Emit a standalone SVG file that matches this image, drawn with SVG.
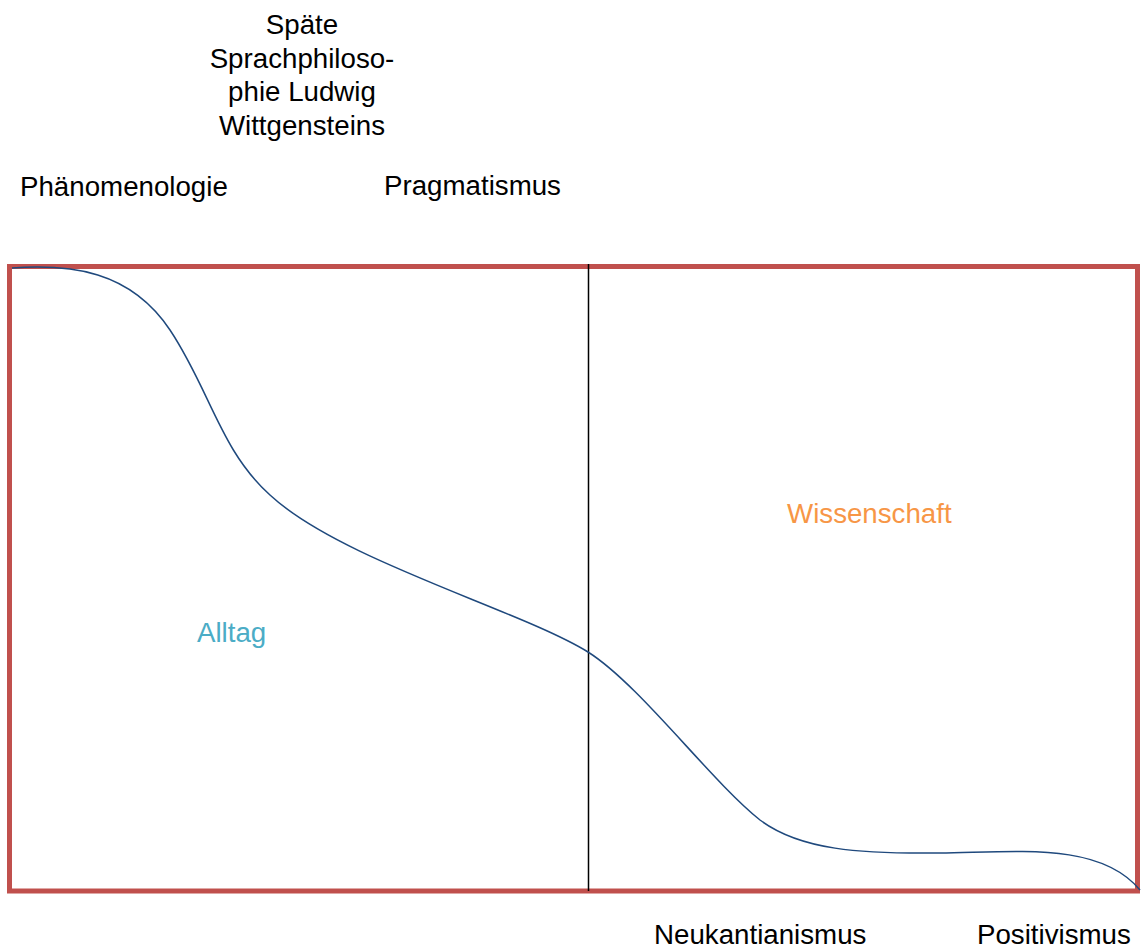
<svg xmlns="http://www.w3.org/2000/svg" width="1143" height="949" viewBox="0 0 1143 949">
<style>
.t{font-family:"Liberation Sans",Arial,sans-serif;font-size:27.7px;fill:#000}
.c{text-anchor:middle}
</style>
<rect width="1143" height="949" fill="#fff"/>
<g id="frame">
<rect x="9.5" y="266.5" width="1128" height="624.5" fill="none" stroke="#c0504d" stroke-width="5"/>
</g>
<g id="connectors">
<line x1="588.5" y1="264" x2="588.5" y2="891" stroke="#000" stroke-width="1.5"/>
<path d="M12,268 C70,264 130,270 170,330 C210,390 220,450 270,495 C340,560 520,610 588,652 C640,685 710,780 760,820 C800,850 860,854 940,853 C1020,852 1100,842 1140,890" fill="none" stroke="#1f497d" stroke-width="1.5"/>
</g>
<g id="n-spaete"><text class="t c" x="302" y="34">Späte</text><text class="t c" x="302" y="67.5">Sprachphiloso-</text><text class="t c" x="302" y="101">phie Ludwig</text><text class="t c" x="302" y="134.5">Wittgensteins</text></g>
<g id="n-phaen"><text class="t" x="20" y="196">Phänomenologie</text></g>
<g id="n-prag"><text class="t" x="384" y="195">Pragmatismus</text></g>
<g id="n-alltag"><text class="t" x="197" y="642" style="fill:#4bacc6">Alltag</text></g>
<g id="n-wiss"><text class="t" x="787" y="523" style="fill:#f79646">Wissenschaft</text></g>
<g id="n-neuk"><text class="t" x="654" y="944">Neukantianismus</text></g>
<g id="n-pos"><text class="t" x="977" y="944">Positivismus</text></g>
</svg>
